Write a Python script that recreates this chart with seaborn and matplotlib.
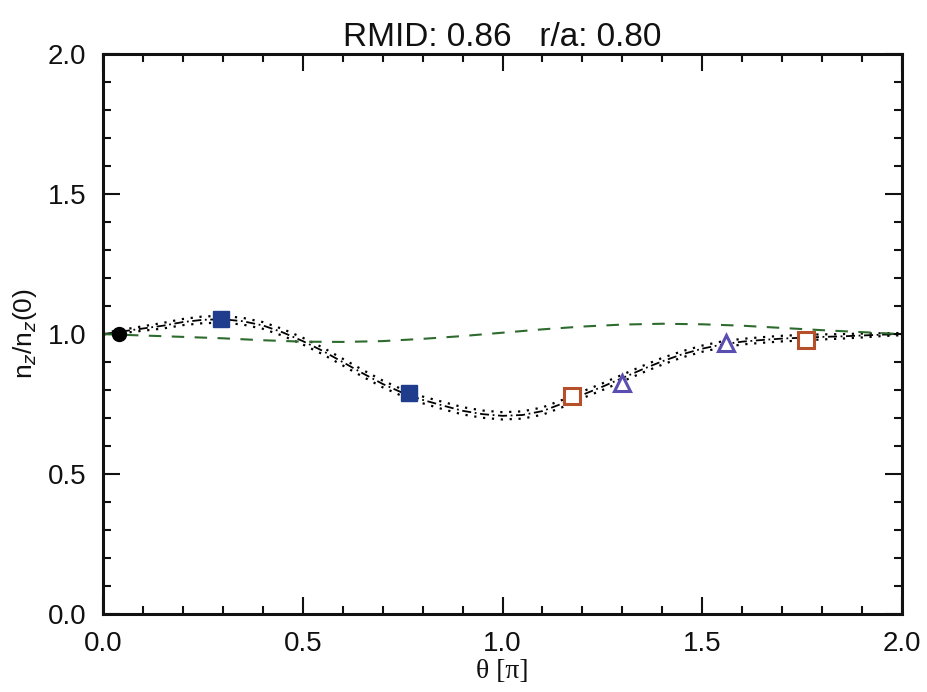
import numpy as np
import pandas as pd
import matplotlib
matplotlib.use("Agg")
import matplotlib.pyplot as plt
from matplotlib.ticker import MultipleLocator
import seaborn as sns

# datos
theta_fit = [0.00, 0.05, 0.10, 0.15, 0.20, 0.25, 0.30, 0.35, 0.40, 0.45,
             0.50, 0.55, 0.60, 0.65, 0.70, 0.75, 0.80, 0.85, 0.90, 0.95,
             1.00, 1.05, 1.10, 1.15, 1.20, 1.25, 1.30, 1.35, 1.40, 1.45,
             1.50, 1.55, 1.60, 1.65, 1.70, 1.75, 1.80, 1.85, 1.90, 1.95, 2.00]
nz_fit = [1.000, 1.010, 1.020, 1.030, 1.043, 1.051, 1.053, 1.046, 1.031, 1.006,
          0.975, 0.940, 0.900, 0.860, 0.822, 0.790, 0.765, 0.745, 0.726, 0.714,
          0.708, 0.711, 0.725, 0.752, 0.783, 0.812, 0.843, 0.874, 0.903, 0.928,
          0.948, 0.963, 0.973, 0.979, 0.984, 0.987, 0.990, 0.992, 0.995, 0.998, 1.000]
nz_err = [0.004, 0.006, 0.008, 0.010, 0.011, 0.012, 0.012, 0.012, 0.012, 0.012,
          0.012, 0.012, 0.012, 0.012, 0.012, 0.012, 0.012, 0.013, 0.013, 0.013,
          0.013, 0.013, 0.013, 0.013, 0.012, 0.012, 0.012, 0.012, 0.012, 0.011,
          0.011, 0.011, 0.010, 0.010, 0.010, 0.010, 0.009, 0.008, 0.007, 0.005, 0.004]

theta_ref = [0.0, 0.1, 0.2, 0.3, 0.4, 0.5, 0.6, 0.7, 0.8, 0.9, 1.0,
             1.1, 1.2, 1.3, 1.4, 1.5, 1.6, 1.7, 1.8, 1.9, 2.0]
nz_ref = [1.000, 0.995, 0.990, 0.985, 0.978, 0.973, 0.972, 0.975, 0.983, 0.993, 1.005,
          1.017, 1.027, 1.034, 1.037, 1.035, 1.030, 1.022, 1.014, 1.007, 1.000]

# puntos medidos
theta_pts = [0.04, 0.295, 0.765, 1.175, 1.30, 1.56, 1.76]
nz_pts = [1.000, 1.054, 0.790, 0.780, 0.825, 0.968, 0.980]
err_pts = [0.008, 0.010, 0.010, 0.012, 0.014, 0.014, 0.012]
grupo = ["ref", "azul", "azul", "naranja", "morado", "morado", "naranja"]

sns.set_style("ticks")
plt.rcParams["font.family"] = ["Liberation Sans", "DejaVu Sans"]
plt.rcParams["text.color"] = "#111111"
plt.rcParams["axes.labelcolor"] = "#111111"
plt.rcParams["xtick.color"] = "#111111"
plt.rcParams["ytick.color"] = "#111111"
plt.rcParams["axes.edgecolor"] = "#111111"

fig = plt.figure(figsize=(9.28, 6.92), dpi=100)
ax = fig.add_axes([0.111, 0.1127, 0.861, 0.809])

df_fit = pd.DataFrame({"theta": theta_fit, "nz": nz_fit, "err": nz_err})
df_fit["lo"] = df_fit["nz"] - df_fit["err"]
df_fit["hi"] = df_fit["nz"] + df_fit["err"]

sns.lineplot(data=df_fit, x="theta", y="nz", color="black", lw=1.3,
             linestyle=(0, (5, 2, 1, 2)), ax=ax)
sns.lineplot(data=df_fit, x="theta", y="lo", color="black", lw=1.6,
             linestyle=(0, (1, 3)), ax=ax)
sns.lineplot(data=df_fit, x="theta", y="hi", color="black", lw=1.6,
             linestyle=(0, (1, 3)), ax=ax)
sns.lineplot(x=theta_ref, y=nz_ref, color="#2e6b2e", lw=1.5,
             linestyle=(0, (6, 5)), ax=ax)

estilos = {
    "ref": dict(marker="o", color="black", mfc="black", ms=10),
    "azul": dict(marker="s", color="#1f3d8c", mfc="#1f3d8c", ms=11),
    "naranja": dict(marker="s", color="#b5502a", mfc="white", ms=11, mew=2.2),
    "morado": dict(marker="^", color="#5a4fb0", mfc="white", ms=11, mew=2.2),
}
for t, n, e, g in zip(theta_pts, nz_pts, err_pts, grupo):
    st = estilos[g]
    ax.errorbar(t, n, yerr=e, fmt=st["marker"], color=st["color"], mfc=st["mfc"],
                mec=st["color"], ms=st["ms"], mew=st.get("mew", 1.0),
                elinewidth=1.5, capsize=0, zorder=5)

ax.set_xlim(0, 2)
ax.set_ylim(0, 2)
ax.xaxis.set_minor_locator(MultipleLocator(0.1))
ax.yaxis.set_minor_locator(MultipleLocator(0.1))
ax.set_xticks([0, 0.5, 1.0, 1.5, 2.0])
ax.set_xticklabels(["0.0", "0.5", "1.0", "1.5", "2.0"])
ax.set_yticks([0, 0.5, 1.0, 1.5, 2.0])
ax.set_yticklabels(["0.0", "0.5", "1.0", "1.5", "2.0"])
ax.tick_params(which="both", direction="in", top=True, right=True,
               labelsize=20, width=1.5, pad=12)
ax.tick_params(which="major", length=12)
ax.tick_params(which="minor", length=6)
for s in ax.spines.values():
    s.set_linewidth(2.2)
    s.set_visible(True)

ax.set_xlabel("θ [π]", fontsize=20, labelpad=2, family=["Liberation Serif", "DejaVu Serif"])
ax.set_ylabel(r"n$_z$/n$_z$(0)", fontsize=19, labelpad=6)
ax.set_title("RMID: 0.86   r/a: 0.80", fontsize=24, pad=6)

fig.savefig("out.png", dpi=100)
